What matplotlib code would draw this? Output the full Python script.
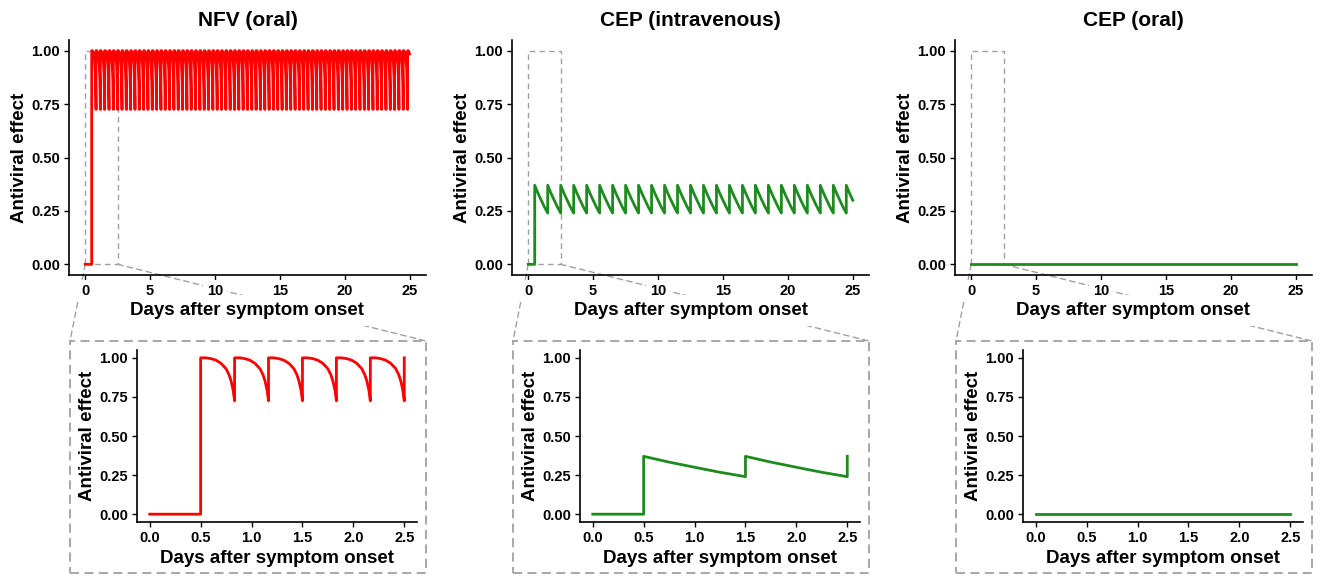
import numpy as np
import matplotlib
matplotlib.use("Agg")
import matplotlib.pyplot as plt
from matplotlib.patches import Rectangle, ConnectionPatch

plt.rcParams['font.family'] = ['Liberation Sans', 'DejaVu Sans']
plt.rcParams['font.weight'] = 'bold'

W, H = 1322, 578

titles = ["NFV (oral)", "CEP (intravenous)", "CEP (oral)"]
colours = ["#ff0000", "#1e8b1e", "#1e8b1e"]

# one dosing interval (offset in days, effect)
nfvCycleDt = [0.0, 0.05, 0.10, 0.15, 0.20, 0.25, 0.28, 0.30, 0.32, 1/3]
nfvCycleE = [1.0, 1.0, 0.995, 0.985, 0.965, 0.93, 0.89, 0.85, 0.79, 0.725]
nfvInterval = 1/3

cepIvCycleDt = [0.0, 0.25, 0.50, 0.75, 1.0]
cepIvCycleE = [0.37, 0.333, 0.30, 0.268, 0.24]
cepIvInterval = 1.0

cepOralT = [0.0, 25.0]
cepOralE = [0.0, 0.0]

firstDose = 0.5
tEnd = 25.0
zoomEnd = 2.5

xTicksTop = [0, 5, 10, 15, 20, 25]
xTicksZoom = [0.0, 0.5, 1.0, 1.5, 2.0, 2.5]
yTicks = [0.0, 0.25, 0.5, 0.75, 1.0]


# lays a read cycle end to end from the first dose until tEnd
def buildSeries(cycleDt, cycleE, interval):
	t = [0.0, firstDose]
	e = [0.0, 0.0]
	start = firstDose
	while start < tEnd - 1e-9:
		for dt, v in zip(cycleDt, cycleE):
			tt = start + dt
			if tt > tEnd + 1e-9:
				break
			t.append(tt)
			e.append(v)
		start += interval
	return np.array(t), np.array(e)


def px(x, y, w, h):
	return [x / W, 1 - (y + h) / H, w / W, h / H]


def styleAxes(ax, xticks, fmt, xpad):
	ax.spines['top'].set_visible(False)
	ax.spines['right'].set_visible(False)
	for s in ['left', 'bottom']:
		ax.spines[s].set_linewidth(1.2)
	ax.set_ylim(-0.05, 1.05)
	ax.set_yticks(yTicks)
	ax.set_yticklabels(["%.2f" % v for v in yTicks])
	ax.set_xticks(xticks)
	ax.set_xticklabels([fmt % v for v in xticks])
	ax.tick_params(length=3.5, width=1, labelsize=10.5, pad=3)
	ax.set_ylabel("Antiviral effect", fontsize=13.5, fontweight='bold', labelpad=2)
	ax.set_xlabel("Days after symptom onset", fontsize=13.5, fontweight='bold', labelpad=xpad)


series = [
	buildSeries(nfvCycleDt, nfvCycleE, nfvInterval),
	buildSeries(cepIvCycleDt, cepIvCycleE, cepIvInterval),
	(np.array(cepOralT), np.array(cepOralE)),
]

fig = plt.figure(figsize=(W / 100, H / 100), dpi=100)
grey = '#a0a0a0'

for i in range(3):
	dx = 443 * i
	t, e = series[i]

	top = fig.add_axes(px(69 + dx, 40, 357, 235))
	top.patch.set_visible(False)
	top.add_patch(Rectangle((0, 0), zoomEnd, 1.0, fill=False, edgecolor=grey,
		linestyle=(0, (4, 3)), linewidth=1.0, zorder=1))
	top.plot(t, e, color=colours[i], linewidth=2.0, zorder=2)
	top.set_xlim(-1.25, 26.25)
	styleAxes(top, xTicksTop, "%d", 3)
	top.set_title(titles[i], fontsize=15, fontweight='bold', pad=10)
	# white boxes behind the labels hide the connector lines
	for lbl in top.get_xticklabels() + top.get_yticklabels():
		lbl.set_bbox(dict(facecolor='white', edgecolor='none', pad=3))
	top.xaxis.label.set_bbox(dict(facecolor='white', edgecolor='none', pad=5))

	# dashed frame round the zoomed panel
	bx, by, bw, bh = 70 + dx, 341, 356, 232
	fig.add_artist(Rectangle((bx / W, 1 - (by + bh) / H), bw / W, bh / H,
		transform=fig.transFigure, fill=False, edgecolor=grey,
		linestyle=(0, (5, 3)), linewidth=1.3, zorder=-1))
	for xa, xb in [(0, bx), (zoomEnd, bx + bw)]:
		con = ConnectionPatch(xyA=(xa, 0), coordsA=top.transData,
			xyB=(xb / W, 1 - by / H), coordsB=fig.transFigure,
			color=grey, linestyle=(0, (4, 3)), linewidth=1.0, zorder=-1)
		fig.add_artist(con)

	low = fig.add_axes(px(137 + dx, 350, 280, 172))
	m = t <= zoomEnd + 1e-9
	tz, ez = t[m], e[m]
	if i == 2:
		tz, ez = np.array([0.0, zoomEnd]), np.array(cepOralE)
	low.plot(tz, ez, color=colours[i], linewidth=2.0)
	low.set_xlim(-0.125, 2.625)
	styleAxes(low, xTicksZoom, "%.1f", 3.5)

fig.savefig("out.png", dpi=100)
